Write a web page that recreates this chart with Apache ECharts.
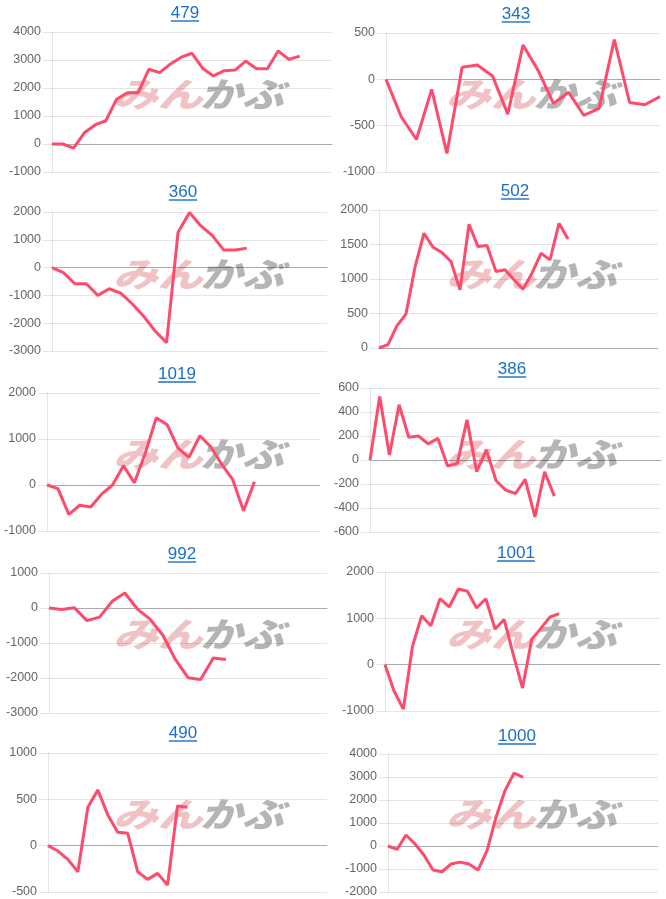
<!DOCTYPE html>
<html><head><meta charset="utf-8">
<script src="https://cdn.jsdelivr.net/npm/echarts@6/dist/echarts.min.js"></script>
<style>html,body{margin:0;padding:0;background:#fff}#c{width:666px;height:899px}</style>
</head><body><div id="c"></div>
<script>
// Panel titles
const titles = ['479','343','360','502','1019','386','992','1001','490','1000'];
// Number of x categories (days) per panel
const cats479 = ['1','2','3','4','5','6','7','8','9','10','11','12','13','14','15','16','17','18','19','20','21','22','23','24','25','26','27'];
const cats343 = ['1','2','3','4','5','6','7','8','9','10','11','12','13','14','15','16','17','18','19'];
const cats360 = ['1','2','3','4','5','6','7','8','9','10','11','12','13','14','15','16','17','18','19','20','21','22','23','24','25'];
const cats502 = ['1','2','3','4','5','6','7','8','9','10','11','12','13','14','15','16','17','18','19','20','21','22','23','24','25','26','27','28','29','30','31','32'];
const cats1019 = ['1','2','3','4','5','6','7','8','9','10','11','12','13','14','15','16','17','18','19','20','21','22','23','24','25','26'];
const cats386 = ['1','2','3','4','5','6','7','8','9','10','11','12','13','14','15','16','17','18','19','20','21','22','23','24','25','26','27','28','29','30','31'];
const cats992 = ['1','2','3','4','5','6','7','8','9','10','11','12','13','14','15','16','17','18','19','20','21','22','23'];
const cats1001 = ['1','2','3','4','5','6','7','8','9','10','11','12','13','14','15','16','17','18','19','20','21','22','23','24','25','26','27','28','29','30','31'];
const cats490 = ['1','2','3','4','5','6','7','8','9','10','11','12','13','14','15','16','17','18','19','20','21','22','23','24','25','26','27','28','29'];
const cats1000 = ['1','2','3','4','5','6','7','8','9','10','11','12','13','14','15','16','17','18','19','20','21','22','23','24','25','26','27','28','29','30','31'];

// Series values
const v479 = [0, 0, -150, 400, 680, 830, 1600, 1830, 1830, 2670, 2550, 2860, 3100, 3240, 2700, 2430, 2620, 2640, 2960, 2690, 2690, 3320, 3020, 3140];
const v343 = [0, -404, -649, -108, -800, 130, 155, 36, -375, 371, 94, -260, -140, -390, -314, 430, -249, -274, -187];
const v360 = [0, -180, -580, -580, -1000, -760, -920, -1300, -1750, -2280, -2700, 1270, 1980, 1500, 1150, 630, 630, 700];
const v502 = [0, 48, 323, 492, 1171, 1663, 1460, 1383, 1253, 843, 1793, 1470, 1484, 1108, 1133, 988, 853, 1084, 1373, 1277, 1807, 1580];
const v1019 = [0, -80, -640, -440, -480, -200, 0, 420, 50, 690, 1460, 1310, 800, 600, 1070, 830, 450, 120, -560, 70];
const v386 = [0, 530, 42, 460, 190, 200, 134, 180, -50, -28, 335, -98, 84, -173, -251, -279, -162, -474, -98, -301];
const v992 = [0, -40, 10, -360, -260, 190, 430, -30, -320, -770, -1470, -1990, -2040, -1430, -1470];
const v1001 = [0, -575, -957, 396, 1058, 842, 1424, 1245, 1633, 1583, 1223, 1424, 770, 971, 216, -504, 540, 784, 1029, 1101];
const v490 = [0, -58, -148, -281, 415, 602, 332, 144, 133, -281, -364, -299, -425, 429, 415];
const v1000 = [0, -150, 480, 90, -390, -1045, -1120, -785, -700, -785, -1045, -200, 1250, 2410, 3170, 2990];

// Y-axis tick ranges [min, max, interval]
const ticks479 = [-1000, 4000, 1000];
const ticks343 = [-1000, 500, 500];
const ticks360 = [-3000, 2000, 1000];
const ticks502 = [0, 2000, 500];
const ticks1019 = [-1000, 2000, 1000];
const ticks386 = [-600, 600, 200];
const ticks992 = [-3000, 1000, 1000];
const ticks1001 = [-1000, 2000, 1000];
const ticks490 = [-500, 1000, 500];
const ticks1000 = [-2000, 4000, 1000];

const allCats = [cats479,cats343,cats360,cats502,cats1019,cats386,cats992,cats1001,cats490,cats1000];
const allVals = [v479,v343,v360,v502,v1019,v386,v992,v1001,v490,v1000];
const allTicks = [ticks479,ticks343,ticks360,ticks502,ticks1019,ticks386,ticks992,ticks1001,ticks490,ticks1000];

// Layout (pixels): grid boxes and title centres
const grids = [
  {left:52, top:32, width:280, height:140},
  {left:386, top:33, width:274, height:139},
  {left:52, top:212, width:275, height:139},
  {left:379, top:210, width:279, height:138},
  {left:47, top:393, width:273, height:138},
  {left:370, top:388, width:291, height:144},
  {left:49, top:573, width:278, height:140},
  {left:385, top:572, width:275, height:139},
  {left:48, top:753, width:279, height:139},
  {left:388, top:754, width:270, height:138}
];
const titlePos = [[185,13],[516,14],[183,192],[515,191],[177,374],[512,369],[182,554],[516,553],[183,733],[517,736]];
const panelOrigin = [[0,0],[333,0],[0,180],[333,180],[0,360],[333,360],[0,540],[333,540],[0,720],[333,720]];

const FONT = '"Liberation Sans", Arial, sans-serif';
const BLUE = '#1a6fc9';
const LINE = '#ff4b6b';

const mc = document.createElement('canvas').getContext('2d');
mc.font = '17px ' + FONT;

const option = {
  animation:false,
  backgroundColor:'#fff',
  title:[], grid:[], xAxis:[], yAxis:[], series:[], graphic:[]
};

for (let i = 0; i < 10; i++) {
  const [cx, cy] = titlePos[i];
  option.title.push({
    text: titles[i], left: cx, top: cy, textAlign:'center', textVerticalAlign:'middle',
    padding:0,
    textStyle:{color:BLUE, fontSize:17, fontWeight:'normal', fontFamily:FONT}
  });
  const w = mc.measureText(titles[i]).width;
  option.graphic.push({
    type:'line', z:10, silent:true,
    shape:{x1:cx - w/2, y1:cy + 8, x2:cx + w/2, y2:cy + 8},
    style:{stroke:BLUE, lineWidth:1.4}
  });
  const [ox, oy] = panelOrigin[i];
  option.graphic.push({
    type:'text', z:0, silent:true, x: ox + 113, y: oy + 94, scaleX:1.12, scaleY:0.85,
    style:{text:'みん', fill:'rgba(222,110,115,0.42)', font:'italic 900 40px "Noto Sans CJK JP"', verticalAlign:'middle', align:'left'}
  });
  option.graphic.push({
    type:'text', z:0, silent:true, x: ox + 200, y: oy + 94, scaleX:1.05, scaleY:0.85,
    style:{text:'かぶ', fill:'rgba(150,150,150,0.7)', font:'italic 900 40px "Noto Sans CJK JP"', verticalAlign:'middle', align:'left'}
  });
  option.grid.push(Object.assign({containLabel:false}, grids[i]));
  option.xAxis.push({
    type:'category', gridIndex:i, data: allCats[i], boundaryGap:false,
    axisLabel:{show:false}, axisTick:{show:false}, splitLine:{show:false},
    axisLine:{show:true, onZero:true, lineStyle:{color:'rgba(0,0,0,0.25)', width:1}}
  });
  const [mn, mx, iv] = allTicks[i];
  option.yAxis.push({
    type:'value', gridIndex:i, min:mn, max:mx, interval:iv,
    axisLine:{show:true, lineStyle:{color:'rgba(0,0,0,0.1)'}},
    axisTick:{show:true, length:9, lineStyle:{color:'rgba(0,0,0,0.1)'}},
    splitLine:{show:true, lineStyle:{color:'rgba(0,0,0,0.1)'}},
    axisLabel:{color:'#666', fontSize:12.5, fontFamily:FONT, margin:11, formatter: v => String(v)}
  });
  option.series.push({
    type:'line', xAxisIndex:i, yAxisIndex:i, data: allVals[i], z:5,
    showSymbol:false, symbol:'none', smooth:false,
    lineStyle:{color:LINE, width:3}, itemStyle:{color:LINE}
  });
}

const chart = echarts.init(document.getElementById('c'), null, {renderer:'canvas'});
chart.setOption(option);
</script></body></html>
